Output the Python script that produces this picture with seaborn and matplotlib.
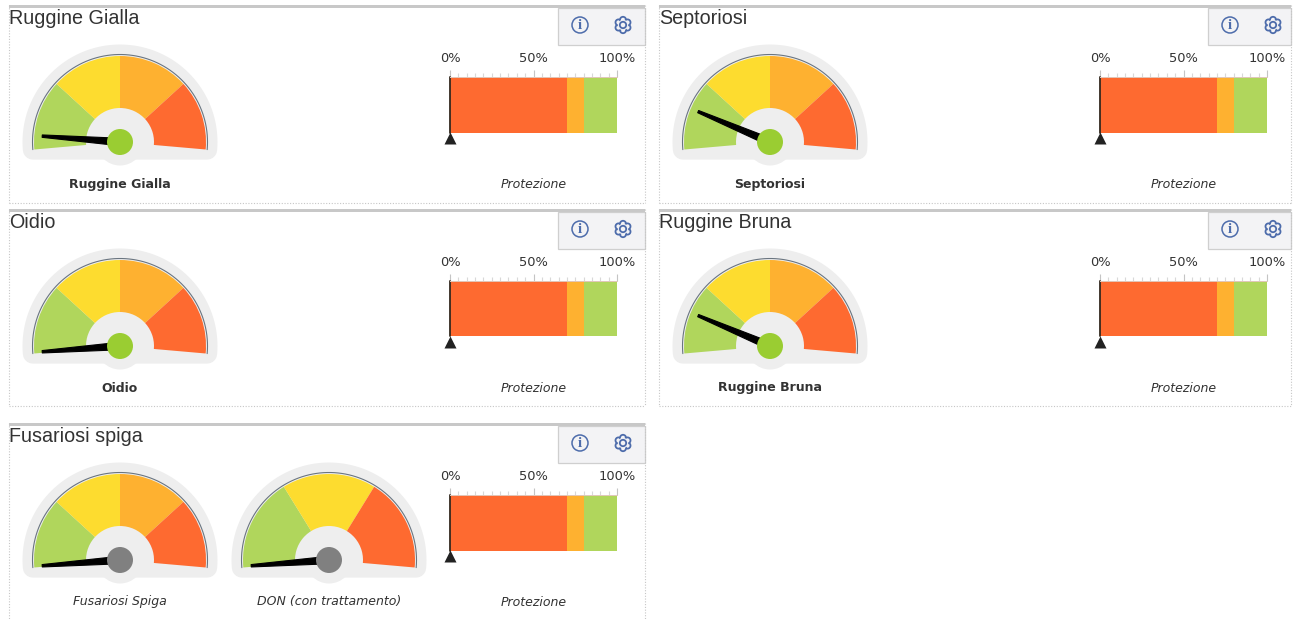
import numpy as np
import pandas as pd
import matplotlib
matplotlib.use('Agg')
import matplotlib.pyplot as plt
from matplotlib.patches import Wedge, Circle, Polygon, Rectangle
import seaborn as sns

# data
titles = ['Ruggine Gialla', 'Septoriosi', 'Oidio', 'Ruggine Bruna', 'Fusariosi spiga']
gauge_names = [['Ruggine Gialla'], ['Septoriosi'], ['Oidio'], ['Ruggine Bruna'],
               ['Fusariosi Spiga', 'DON (con trattamento)']]
gauge_values = [[4.9], [14.7], [0.4], [14.7], [0.4, 0.4]]
hub_colors = ['#9acd32', '#9acd32', '#9acd32', '#9acd32', '#808080']
four_steps = [25, 50, 75, 100]
four_colors = ['#b0d65c', '#fddc2f', '#feb130', '#fe6a30']
three_steps = [33.33, 66.67, 100]
three_colors = ['#b0d65c', '#fddc2f', '#fe6a30']
protection_steps = [70, 80, 100]
protection_colors = ['#fe6a30', '#feb130', '#b0d65c']
protection_values = [0, 0, 0, 0, 0]
tick_labels = ['0%', '50%', '100%']

W, H = 1295, 619
START, SWEEP = 185.0, 190.0
PANEL_X = [9, 659, 9, 659, 9]
PANEL_Y = [0, 0, 204, 204, 418]
PANEL_W = [636, 632, 636, 632, 636]
PANEL_BOTTOM = [202.5, 202.5, 406, 406, H + 5]
TOOL_W = [87, 83, 87, 83, 87]
PAD = '#eeeeee'
BLUE = '#4d6cab'
TOOL = '#f3f3f5'
TEXT = '#333333'

sns.set_theme(style='white')
plt.rcParams['font.family'] = ['DejaVu Sans']

fig = plt.figure(figsize=(W / 100, H / 100), dpi=100, facecolor='white')


def px_axes(x0, y0, x1, y1):
    return fig.add_axes([x0 / W, 1 - y1 / H, (x1 - x0) / W, (y1 - y0) / H])


def angle(v):
    return START - v / 100 * SWEEP


def draw_gauge(cx, cy, value, hub, name, bold, steps, colors):
    ax = px_axes(cx - 110, cy - 110, cx + 110, cy + 40)
    ax.set_xlim(-110, 110)
    ax.set_ylim(-40, 110)
    ax.axis('off')
    # pad behind the dial, stroked for the round corners
    th = np.radians(np.linspace(START, START - SWEEP, 80))
    ax.add_patch(Polygon(np.c_[87.5 * np.cos(th), 87.5 * np.sin(th)], closed=True, fc=PAD, ec=PAD,
                         lw=14.4, joinstyle='round'))
    ax.add_patch(Circle((0, 0), 23.5, fc=PAD, ec='none'))
    prev = 0
    for s, c in zip(steps, colors):
        ax.add_patch(Wedge((0, 0), 86, angle(s), angle(prev), fc=c, ec='none'))
        prev = s
    ax.plot(87.5 * np.cos(th), 87.5 * np.sin(th), color='#6a7580', lw=0.8)
    ax.add_patch(Wedge((0, 0), 34, START - SWEEP - 4, START + 4, fc=PAD, ec='none'))
    # needle
    a = np.radians(angle(value))
    u = np.array([np.cos(a), np.sin(a)])
    n = np.array([-u[1], u[0]])
    ax.add_patch(Polygon([u * 8 + n * 3.5, u * 78 + n * 1.2, u * 78 - n * 1.2, u * 8 - n * 3.5],
                         closed=True, fc='black', ec='black', lw=0.8, joinstyle='round'))
    ax.add_patch(Circle((0, 0), 13, fc=hub, ec='none'))
    txt = ax.text(0, -42, name, ha='center', va='center', fontsize=9, color=TEXT,
                  fontweight='bold' if bold else 'normal', style='normal' if bold else 'italic')
    txt.set_clip_on(False)


def draw_protection(x0, y0, value):
    ax = px_axes(x0, y0 + 77, x0 + 167, y0 + 132.5)
    table = pd.DataFrame({'cum': protection_steps[::-1], 'row': ['p'] * 3, 'col': protection_colors[::-1]})
    for _, r in table.iterrows():
        sns.barplot(x=[r['cum']], y=[r['row']], color=r['col'], width=1, saturation=1, linewidth=0,
                    ax=ax, orient='h')
    ax.set_xlim(0, 100)
    ax.set_ylim(0.5, -0.5)
    ax.set_xlabel('')
    ax.set_ylabel('')
    ax.set_yticks([])
    ax.xaxis.tick_top()
    ax.set_xticks([0, 50, 100], tick_labels)
    ax.set_xticks(np.arange(0, 101, 5), minor=True)
    ax.tick_params(axis='x', which='major', length=5, width=0.8, color='#c4c4c4', labelsize=9.4,
                   labelcolor=TEXT, pad=3.5, top=True, bottom=False)
    ax.tick_params(axis='x', which='minor', length=3, width=0.8, color='#d8d8d8', top=True, bottom=False)
    for s in ['left', 'right', 'bottom']:
        ax.spines[s].set_visible(False)
    ax.spines['top'].set_color('#e2c8bc')
    ax.spines['top'].set_linewidth(0.7)
    ax.axvline(value, color='#33291f', lw=1.3, clip_on=False)
    ax.plot([value], [-0.1], transform=ax.get_xaxis_transform(), marker='^', ms=8.6, color='#222222',
            mec='none', clip_on=False, zorder=5, linestyle='none')
    ax.text(0.5, -0.93, 'Protezione', transform=ax.transAxes, ha='center', va='center', fontsize=9,
            style='italic', color=TEXT)


# page layer for the panel furniture
bg = fig.add_axes([0, 0, 1, 1], zorder=-1)
bg.set_xlim(0, W)
bg.set_ylim(H, 0)
bg.axis('off')

for i, title in enumerate(titles):
    x, dy, w = PANEL_X[i], PANEL_Y[i], PANEL_W[i]
    top = dy + 5
    bottom = PANEL_BOTTOM[i]
    dot = dict(color='#c6c6c6', lw=0.8, ls=(0, (1, 1.5)))
    bg.plot([x, x], [top, bottom], **dot)
    bg.plot([x + w, x + w], [top, bottom], **dot)
    if i < 4:
        bg.plot([x, x + w], [bottom, bottom], **dot)
    bg.add_patch(Rectangle((x, top), w, 3, fc='#c8c8c8', ec='none'))
    # toolbar
    tx = x + w - TOOL_W[i]
    bg.add_patch(Rectangle((tx, top + 3), TOOL_W[i], 37, fc=TOOL, ec='#cfcfcf', lw=0.9))
    iy = top + 20
    ix = tx + 22
    bg.add_patch(Circle((ix, iy), 8, fc='none', ec=BLUE, lw=1.1))
    bg.text(ix, iy + 0.5, 'i', ha='center', va='center', fontsize=10.5, color=BLUE, family='Liberation Serif',
            fontweight='bold')
    gx = tx + 65
    for k in range(6):
        t = np.radians(60 * k + 30)
        bg.add_patch(Circle((gx + 5.2 * np.cos(t), iy + 5.2 * np.sin(t)), 3, fc=TOOL, ec=BLUE, lw=1.3))
    bg.add_patch(Circle((gx, iy), 5.2, fc=TOOL, ec='none'))
    bg.add_patch(Circle((gx, iy), 3.2, fc='none', ec=BLUE, lw=1.3))
    bg.text(x, dy + 19, title, ha='left', va='center', fontsize=14.2, color=TEXT, family='Liberation Sans')

    names = gauge_names[i]
    hub_y = 142 + dy
    for j, name in enumerate(names):
        cx = x + 111 + j * 209
        steps, colors = (three_steps, three_colors) if j == 1 else (four_steps, four_colors)
        draw_gauge(cx, hub_y, gauge_values[i][j], hub_colors[i], name, len(names) == 1, steps, colors)
    draw_protection(x + 441, dy, protection_values[i])

fig.savefig('out.png', dpi=100, facecolor='white')
